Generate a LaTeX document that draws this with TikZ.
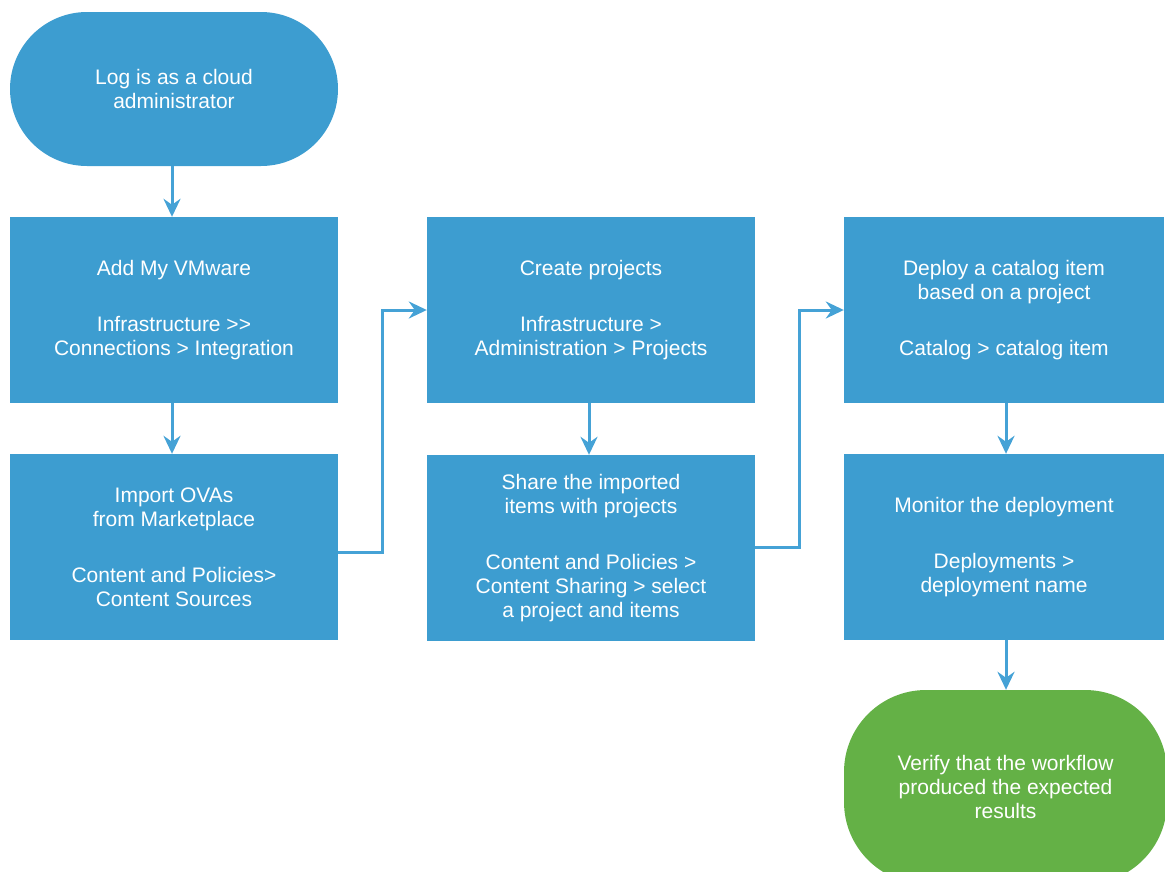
\documentclass[tikz,border=0pt]{standalone}
\usepackage{fontspec}
\setmainfont{Liberation Sans}
\usetikzlibrary{arrows.meta}
\definecolor{boxblue}{HTML}{3D9DD0}
\definecolor{lineblue}{HTML}{45A2D6}
\definecolor{endgreen}{HTML}{64B146}
\tikzset{
  stepbox/.style={rectangle, fill=boxblue, text=white, align=center,
    minimum width=328pt, minimum height=186pt, inner sep=0pt,
    font=\fontsize{21}{24}\selectfont},
  terminal/.style={stepbox, minimum height=154pt, rounded corners=77pt},
  finalbox/.style={stepbox, fill=endgreen, minimum width=323pt, minimum height=194pt, rounded corners=82pt},
  conn/.style={draw=lineblue, line width=3pt,
    -{Stealth[length=18pt, width=17pt, inset=6pt]}}
}
\begin{document}
\begin{tikzpicture}[x=1pt, y=-1pt]
\useasboundingbox (0,0) rectangle (1165,871);
\clip (0,0) rectangle (1165,871);
\node[terminal] (start) at (174,89) {Log is as a cloud\\administrator};
\node[stepbox] (b1) at (174,310) {Add My VMware\\[32pt]Infrastructure >\kern0pt>\\Connections > Integration};
\node[stepbox] (b2) at (174,547) {Import OVAs\\from Marketplace\\[32pt]Content and Policies>\\Content Sources};
\node[stepbox] (b3) at (591,310) {Create projects\\[32pt]Infrastructure >\\Administration > Projects};
\node[stepbox] (b4) at (591,548) {Share the imported\\items with projects\\[32pt]Content and Policies >\\Content Sharing > select\\a project and items};
\node[stepbox, minimum width=320pt] (b5) at (1004,310) {Deploy a catalog item\\based on a project\\[32pt]Catalog > catalog item};
\node[stepbox, minimum width=320pt] (b6) at (1004,547) {Monitor the deployment\\[32pt]Deployments >\\deployment name};
\node[finalbox] (fin) at (1005.5,787) {Verify that the workflow\\produced the expected\\results};
\draw[conn] ([xshift=-2pt]start.south) -- ([xshift=-2pt]b1.north);
\draw[conn] ([xshift=-2pt]b1.south) -- ([xshift=-2pt]b2.north);
\draw[conn] ([xshift=-2pt]b3.south) -- ([xshift=-2pt]b4.north);
\draw[conn] ([xshift=2pt]b5.south) -- ([xshift=2pt]b6.north);
\draw[conn] ([xshift=2pt]b6.south) -- ([xshift=0.5pt]fin.north);
\draw[conn] ([yshift=-5pt]b2.east) -- ++(44,0) |- (b3.west);
\draw[conn] ([yshift=1pt]b4.east) -- ++(44,0) |- (b5.west);
\end{tikzpicture}
\end{document}
